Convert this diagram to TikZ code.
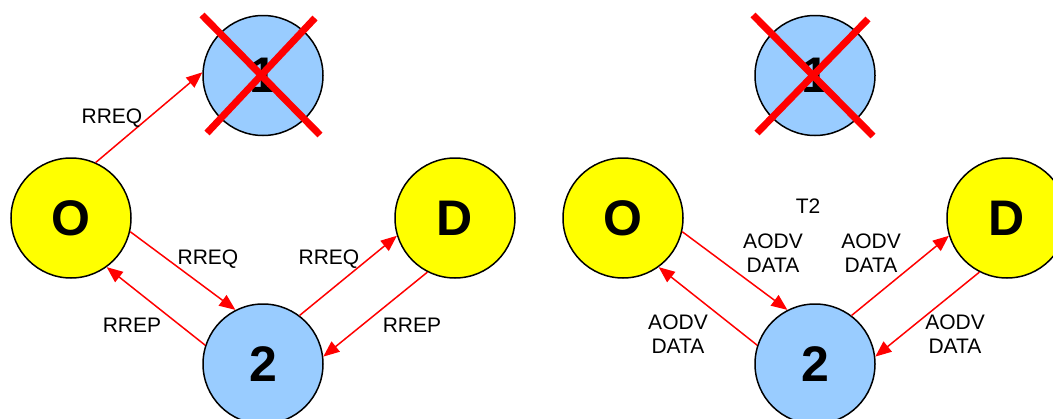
\documentclass[tikz,border=0pt]{standalone}
\usepackage{fontspec}
\setmainfont{Liberation Sans}
\usetikzlibrary{arrows.meta,calc}
\definecolor{nodeblue}{RGB}{153,204,255}
\definecolor{nodeyellow}{RGB}{255,255,0}
\begin{document}
\begin{tikzpicture}[x=1pt,y=-1pt,
  station/.style={circle,draw=black,line width=1.5pt,minimum size=120pt,inner sep=0pt,
    font=\fontsize{50}{50}\selectfont\bfseries},
  endpoint/.style={station,fill=nodeyellow},
  relay/.style={station,fill=nodeblue},
  msg/.style={draw=red,line width=1.5pt,-{Triangle[length=16pt,width=13pt]}},
  lbl/.style={inner sep=0pt,align=center,font=\fontsize{21}{24}\selectfont},
  cross/.style={draw=red,line width=7pt}]
\clip (0,0) rectangle (1053,418);
\useasboundingbox (0,0) rectangle (1053,418);

% ---- route discovery (left) ----
\node[endpoint] (O1) at (71,218) {O};
\node[relay]    (N1) at (263,75.5) {1};
\node[endpoint] (D1) at (455,218) {D};
\node[relay]    (R1) at (263,364) {2};

\draw[cross] ($(N1)+(-61,-60.5)$) -- ($(N1)+(57,59.5)$);
\draw[cross] ($(N1)+(52,-57.5)$) -- ($(N1)+(-56,57.5)$);

\draw[msg] (O1.66)  -- (N1.177);
\draw[msg] (O1.-13) -- (R1.117);
\draw[msg] (R1.162) -- (O1.-54);
\draw[msg] (R1.53)  -- (D1.197);
\draw[msg] (D1.243) -- (R1.7);

\node[lbl] (q1) at (112,118)   {RREQ};
\node[lbl] (q2) at (208,259.5) {RREQ};
\node[lbl] (q3) at (329,259.5) {RREQ};
\node[lbl] (p1) at (132,325)   {RREP};
\node[lbl] (p2) at (412,325)   {RREP};

% ---- data forwarding (right) ----
\node[endpoint] (O2) at (623,218) {O};
\node[relay]    (N2) at (815,75.5) {1};
\node[endpoint] (D2) at (1007,218) {D};
\node[relay]    (R2) at (815,364) {2};

\draw[cross] ($(N2)+(-62,-60.5)$) -- ($(N2)+(58,60.5)$);
\draw[cross] ($(N2)+(53,-56.5)$) -- ($(N2)+(-58,57.5)$);

\draw[msg] (O2.-13) -- (R2.117);
\draw[msg] (R2.162) -- (O2.-54);
\draw[msg] (R2.53)  -- (D2.197);
\draw[msg] (D2.243) -- (R2.7);

\node[lbl] (t2) at (808,206)   {T2};
\node[lbl] (d1) at (773,253.5) {AODV\\DATA};
\node[lbl] (d2) at (871,253.5) {AODV\\DATA};
\node[lbl] (d3) at (678,334.5) {AODV\\DATA};
\node[lbl] (d4) at (955,334.5) {AODV\\DATA};
\end{tikzpicture}
\end{document}
